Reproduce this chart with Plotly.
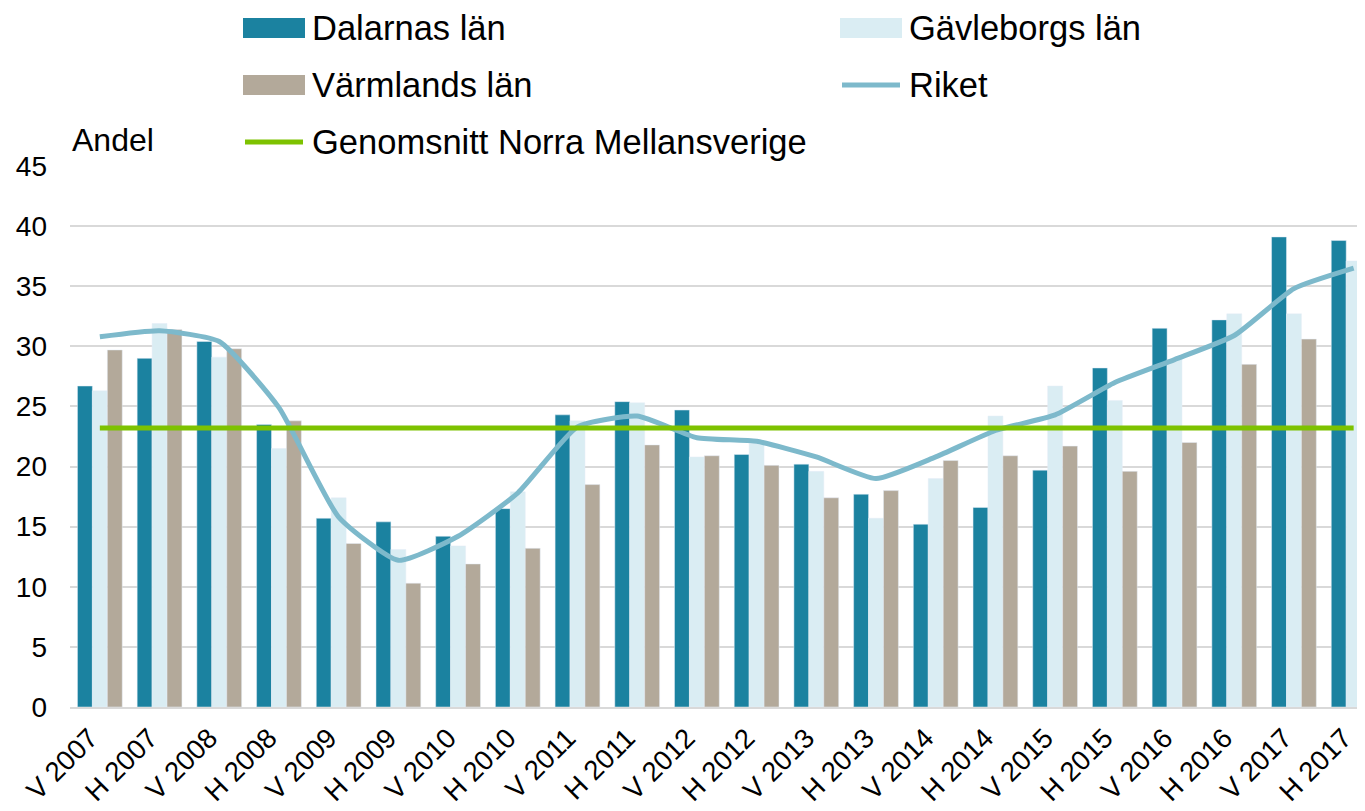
import plotly.graph_objects as go

categories = ["V 2007", "H 2007", "V 2008", "H 2008", "V 2009", "H 2009", "V 2010", "H 2010",
              "V 2011", "H 2011", "V 2012", "H 2012", "V 2013", "H 2013", "V 2014", "H 2014",
              "V 2015", "H 2015", "V 2016", "H 2016", "V 2017", "H 2017"]
dalarnas = [26.7, 29.0, 30.4, 23.5, 15.7, 15.4, 14.2, 16.5, 24.3, 25.4, 24.7, 21.0,
            20.2, 17.7, 15.2, 16.6, 19.7, 28.2, 31.5, 32.2, 39.1, 38.8]
gavleborgs = [26.3, 31.9, 29.1, 21.5, 17.4, 13.1, 13.4, 17.9, 23.8, 25.3, 20.8, 21.9,
              19.6, 15.7, 19.0, 24.2, 26.7, 25.5, 28.9, 32.7, 32.7, 37.1]
varmlands = [29.7, 31.4, 29.8, 23.8, 13.6, 10.3, 11.9, 13.2, 18.5, 21.8, 20.9, 20.1,
             17.4, 18.0, 20.5, 20.9, 21.7, 19.6, 22.0, 28.5, 30.6, 34.8]
riket = [30.8, 31.3, 30.4, 24.9, 15.8, 12.2, 14.2, 17.8, 23.3, 24.2, 22.4, 22.1,
         20.8, 19.0, 20.8, 23.0, 24.3, 27.0, 28.9, 30.9, 34.8, 36.5]
genomsnitt = [23.2] * len(categories)
y_ticks = [0, 5, 10, 15, 20, 25, 30, 35, 40, 45]

names = ["Dalarnas län", "Gävleborgs län", "Värmlands län", "Riket", "Genomsnitt Norra Mellansverige"]
C_DAL = "#1B82A0"
C_GAV = "#DAEDF3"
C_VAR = "#B3A99A"
C_RIK = "#7DB9CB"
C_GEN = "#7DC200"

# The page body has an 8px default margin; the figure is sized to fill the window.
OFF = 8
W, H = 1365 - OFF, 811 - OFF
PLOT_L, PLOT_R, PLOT_T, PLOT_B = 70, 1365, 166, 707   # page pixels
ML = PLOT_L - OFF
MT = PLOT_T - OFF
MR = 1365 - PLOT_R
MB = 811 - PLOT_B
PW = PLOT_R - PLOT_L
PH = PLOT_B - PLOT_T


def px(x):
    return (x - PLOT_L) / PW


def py(y):
    return (PLOT_B - y) / PH


FONT = "Liberation Sans, Arial, sans-serif"

fig = go.Figure()
fig.add_trace(go.Bar(x=categories, y=dalarnas, name=names[0], marker_color=C_DAL, showlegend=False))
fig.add_trace(go.Bar(x=categories, y=gavleborgs, name=names[1], marker_color=C_GAV, showlegend=False))
fig.add_trace(go.Bar(x=categories, y=varmlands, name=names[2], marker_color=C_VAR, showlegend=False))
fig.add_trace(go.Scatter(x=categories, y=riket, name=names[3], mode="lines",
                         line=dict(color=C_RIK, width=5, shape="spline", smoothing=0.5),
                         showlegend=False))
fig.add_trace(go.Scatter(x=categories, y=genomsnitt, name=names[4], mode="lines",
                         line=dict(color=C_GEN, width=5), showlegend=False))

shapes = []
annotations = []
# manual legend (page pixel positions)
legend_items = [
    (names[0], "bar", C_DAL, 243, 28),
    (names[1], "bar", C_GAV, 840, 28),
    (names[2], "bar", C_VAR, 243, 85),
    (names[3], "line", C_RIK, 840, 85),
    (names[4], "line", C_GEN, 243, 142),
]
for label, kind, col, x0, yc in legend_items:
    if kind == "bar":
        shapes.append(dict(type="rect", xref="paper", yref="paper",
                           x0=px(x0), x1=px(x0 + 62), y0=py(yc - 10), y1=py(yc + 10),
                           fillcolor=col, line=dict(width=0), layer="above"))
    else:
        shapes.append(dict(type="line", xref="paper", yref="paper",
                           x0=px(x0 + 2), x1=px(x0 + 60), y0=py(yc), y1=py(yc),
                           line=dict(color=col, width=5), layer="above"))
    annotations.append(dict(text=label, xref="paper", yref="paper", x=px(x0 + 67), y=py(yc),
                            xanchor="left", yanchor="middle", showarrow=False,
                            font=dict(family=FONT, size=34.5, color="#000000")))

annotations.append(dict(text="Andel", xref="paper", yref="paper", x=px(70), y=py(140),
                        xanchor="left", yanchor="middle", showarrow=False,
                        font=dict(family=FONT, size=32, color="#000000")))

fig.update_layout(
    width=W, height=H,
    margin=dict(l=ML, r=MR, t=MT, b=MB, pad=0, autoexpand=False),
    paper_bgcolor="white", plot_bgcolor="white",
    barmode="group", bargap=0.25, bargroupgap=0,
    font=dict(family=FONT, size=28, color="#000000"),
    shapes=shapes, annotations=annotations,
    showlegend=False,
    xaxis=dict(type="category", range=[-0.5, 21.19], tickangle=-45, automargin=False,
               showgrid=False, showline=True, linecolor="#D9D9D9", linewidth=2,
               ticks="", tickfont=dict(family=FONT, size=27.5), ticklabelstandoff=2,
               ticklabelshift=-10, zeroline=False),
    yaxis=dict(range=[0, 45], tickvals=y_ticks, showgrid=True, gridcolor="#D9D9D9",
               gridwidth=1.5, zeroline=False, showline=False, ticks="", automargin=False,
               tickfont=dict(family=FONT, size=28), ticklabelstandoff=22),
)

fig.write_html("out.html")
